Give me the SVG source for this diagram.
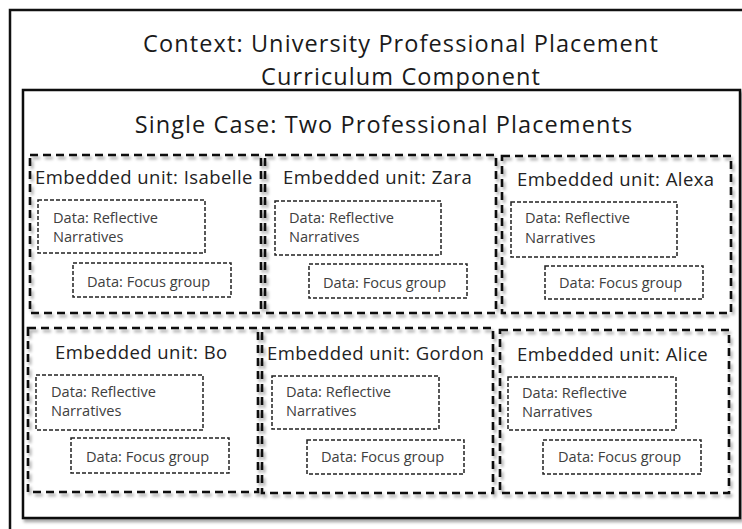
<svg xmlns="http://www.w3.org/2000/svg" width="742" height="529" viewBox="0 0 742 529">
  <defs>
    <filter id="shadow" x="-5%" y="-5%" width="115%" height="115%">
      <feDropShadow dx="2" dy="3" stdDeviation="1.5" flood-color="#000" flood-opacity="0.35"/>
    </filter>
  </defs>
  <style>
    text { font-family: "Open Sans", "Liberation Sans", sans-serif; }
    .frame { fill: #fff; stroke: #111; stroke-width: 2.5; }
    .title { font-size: 23.5px; letter-spacing: 1.1px; fill: #1a1a1a; text-anchor: middle; }
    .unit { fill: none; stroke: #111; stroke-width: 2.6; stroke-dasharray: 8 5; }
    .unit-label { font-size: 18.5px; letter-spacing: 0.45px; fill: #222; }
    .data { fill: none; stroke: #222; stroke-width: 1.5; stroke-dasharray: 4 2; }
    .data-label { font-size: 14.6px; fill: #404040; }
  </style>

  <!-- context frame -->
  <g id="context">
    <rect class="frame" x="10" y="10" width="745" height="540"/>
    <text class="title" x="401" y="52">Context: University Professional Placement</text>
    <text class="title" x="401" y="85">Curriculum Component</text>
  </g>

  <!-- single case frame -->
  <g id="single-case">
    <rect class="frame" x="23" y="90" width="717" height="428" filter="url(#shadow)"/>
    <text class="title" x="384" y="133">Single Case: Two Professional Placements</text>
  </g>

  <!-- embedded units -->
  <g id="unit-isabelle">
    <rect class="unit" x="30" y="155" width="231" height="158" filter="url(#shadow)"/>
    <text class="unit-label" x="35" y="184">Embedded unit: Isabelle</text>
    <rect class="data" x="38" y="200" width="167" height="53"/>
    <text class="data-label" x="53" y="223">Data: Reflective</text>
    <text class="data-label" x="53" y="242">Narratives</text>
    <rect class="data" x="73" y="263" width="158" height="34"/>
    <text class="data-label" x="87" y="287">Data: Focus group</text>
  </g>

  <g id="unit-zara">
    <rect class="unit" x="265" y="155" width="231" height="158" filter="url(#shadow)"/>
    <text class="unit-label" x="283" y="184">Embedded unit: Zara</text>
    <rect class="data" x="275" y="201" width="166" height="54"/>
    <text class="data-label" x="289" y="223">Data: Reflective</text>
    <text class="data-label" x="289" y="242">Narratives</text>
    <rect class="data" x="309" y="264" width="158" height="34"/>
    <text class="data-label" x="323" y="288">Data: Focus group</text>
  </g>

  <g id="unit-alexa">
    <rect class="unit" x="502" y="156" width="229" height="157" filter="url(#shadow)"/>
    <text class="unit-label" x="517" y="186">Embedded unit: Alexa</text>
    <rect class="data" x="511" y="202" width="166" height="55"/>
    <text class="data-label" x="525" y="223">Data: Reflective</text>
    <text class="data-label" x="525" y="243">Narratives</text>
    <rect class="data" x="545" y="266" width="158" height="33"/>
    <text class="data-label" x="559" y="288">Data: Focus group</text>
  </g>

  <g id="unit-bo">
    <rect class="unit" x="28" y="328" width="230" height="164" filter="url(#shadow)"/>
    <text class="unit-label" x="55" y="359">Embedded unit: Bo</text>
    <rect class="data" x="36" y="375" width="167" height="55"/>
    <text class="data-label" x="51" y="397">Data: Reflective</text>
    <text class="data-label" x="51" y="416">Narratives</text>
    <rect class="data" x="71" y="438" width="158" height="35"/>
    <text class="data-label" x="86" y="462">Data: Focus group</text>
  </g>

  <g id="unit-gordon">
    <rect class="unit" x="262" y="328" width="231" height="165" filter="url(#shadow)"/>
    <text class="unit-label" x="267" y="360">Embedded unit: Gordon</text>
    <rect class="data" x="272" y="376" width="167" height="53"/>
    <text class="data-label" x="286" y="397">Data: Reflective</text>
    <text class="data-label" x="286" y="416">Narratives</text>
    <rect class="data" x="307" y="440" width="157" height="34"/>
    <text class="data-label" x="321" y="462">Data: Focus group</text>
  </g>

  <g id="unit-alice">
    <rect class="unit" x="500" y="330" width="229" height="163" filter="url(#shadow)"/>
    <text class="unit-label" x="517" y="361">Embedded unit: Alice</text>
    <rect class="data" x="508" y="377" width="168" height="53"/>
    <text class="data-label" x="522" y="398">Data: Reflective</text>
    <text class="data-label" x="522" y="417">Narratives</text>
    <rect class="data" x="543" y="440" width="158" height="34"/>
    <text class="data-label" x="558" y="462">Data: Focus group</text>
  </g>

  <!-- no connectors in this diagram -->
  <g id="connectors"/>
</svg>
